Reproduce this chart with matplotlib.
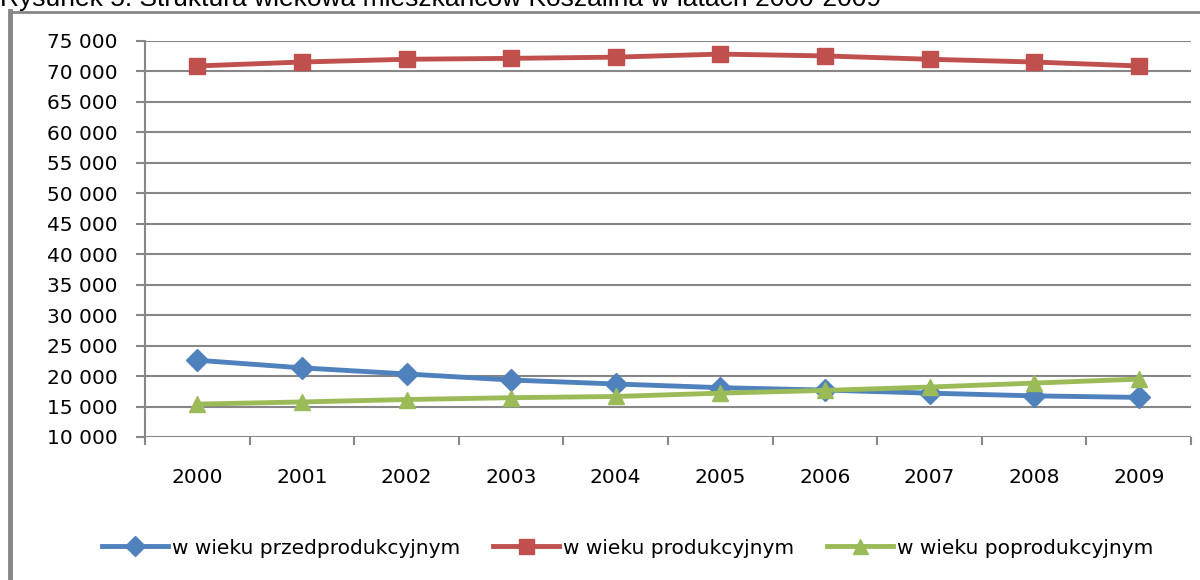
import matplotlib.pyplot as plt
from matplotlib.lines import Line2D
from matplotlib.ticker import FuncFormatter

lata = ['2000', '2001', '2002', '2003', '2004', '2005', '2006', '2007', '2008', '2009']
przedprodukcyjny = [22600, 21350, 20350, 19350, 18700, 18100, 17700, 17200, 16750, 16500]
produkcyjny = [70900, 71550, 72000, 72150, 72350, 72850, 72550, 72000, 71550, 70900]
poprodukcyjny = [15400, 15750, 16150, 16450, 16650, 17200, 17650, 18200, 18850, 19500]
nazwy = ['w wieku przedprodukcyjnym', 'w wieku produkcyjnym', 'w wieku poprodukcyjnym']

kolory = ['#4F81BD', '#C0504D', '#9BBB59']
markery = ['D', 's', '^']
szary = '#878787'

plt.rcParams['font.family'] = ['DejaVu Sans']

fig = plt.figure(figsize=(12, 5.8), dpi=100)

# tytul przyciety u gory
fig.text(0.0, (580 - 6) / 580, 'Rysunek 5. Struktura wiekowa mieszkańców Koszalina w latach 2000-2009',
         fontsize=19, family='Liberation Sans', va='baseline', ha='left')

# ramka wykresu
fig.add_artist(Line2D([10 / 1200, 1.0], [568 / 580, 568 / 580], color=szary, lw=2,
                      transform=fig.transFigure))
fig.add_artist(Line2D([10 / 1200, 10 / 1200], [0.0, 569 / 580], color=szary, lw=3.5,
                      transform=fig.transFigure))

ax = fig.add_axes([145 / 1200, (580 - 437) / 580, (1191 - 145) / 1200, (437 - 41) / 580])

x = list(range(len(lata)))
serie = [przedprodukcyjny, produkcyjny, poprodukcyjny]
rozmiary = [11, 12, 12]
for dane, kolor, mk, ms in zip(serie, kolory, markery, rozmiary):
    ax.plot(x, dane, color=kolor, lw=3.5, marker=mk, markersize=ms,
            markeredgecolor=kolor, zorder=3)

ax.set_ylim(10000, 75000)
ax.set_yticks(range(10000, 75001, 5000))
ax.yaxis.set_major_formatter(FuncFormatter(lambda v, p: f'{int(v):,}'.replace(',', ' ')))
ax.grid(axis='y', color=szary, lw=1.5)
ax.set_axisbelow(True)

ax.set_xlim(-0.5, len(lata) - 0.5)
ax.set_xticks(x)
ax.set_xticklabels(lata)
for lab in ax.get_xticklabels()[-2:]:
    lab.set_fontsize(11.5)
ax.set_xticks([i + 0.5 for i in range(-1, len(lata))], minor=True)
ax.tick_params(axis='x', which='major', length=0, pad=22, labelsize=14.5)
ax.tick_params(axis='x', which='minor', length=6, width=1.5, color=szary)
ax.tick_params(axis='y', length=6.5, width=1.5, color=szary, labelsize=14.5, pad=13)

for s in ['top', 'right', 'bottom']:
    ax.spines[s].set_visible(False)
ax.spines['left'].set_color(szary)
ax.spines['left'].set_linewidth(1.5)

uchwyty = [Line2D([], [], color=k, lw=3.5, marker=m, markersize=r * 0.9, markeredgecolor=k)
           for k, m, r in zip(kolory, markery, rozmiary)]
fig.legend(uchwyty, nazwy, loc='center', bbox_to_anchor=(0.523, (580 - 548) / 580), ncol=3,
           frameon=False, fontsize=14.5, handlelength=3.3, handletextpad=0.2, columnspacing=1.6)

fig.savefig('out.png', dpi=100)
